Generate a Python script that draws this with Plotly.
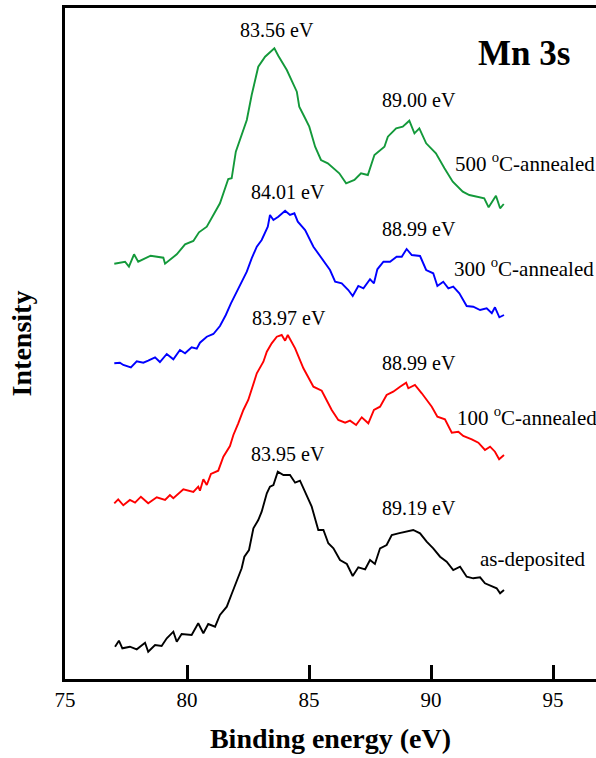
import plotly.graph_objects as go

# ---------------- data ----------------
green_x = [77.02, 77.46, 77.62, 77.83, 78.00, 78.51, 79.03, 79.10, 79.58, 79.92, 80.26, 80.49, 80.81, 81.01,
           81.35, 81.69, 81.83, 82.00, 82.24, 82.45, 82.65, 82.92, 83.20, 83.58, 83.74, 84.09, 84.50, 84.60,
           84.84, 85.01, 85.25, 85.49, 85.77, 86.24, 86.52, 86.86, 87.13, 87.41, 87.68, 88.09, 88.23, 88.57,
           88.84, 89.11, 89.32, 89.52, 89.80, 90.20, 90.55, 90.89, 91.30, 91.57, 92.18, 92.36, 92.66, 92.83, 92.98]
green_y = [415.3, 417.3, 412.3, 424.7, 417.3, 423.3, 421.3, 415.3, 424.7, 434.7, 438.0, 446.7, 452.3, 461.3,
           475.7, 500.0, 500.7, 527.3, 544.0, 559.0, 584.0, 612.3, 622.3, 630.7, 623.3, 609.0, 587.3, 572.3,
           560.7, 552.3, 532.3, 519.0, 515.7, 505.7, 495.7, 499.0, 505.7, 504.0, 524.0, 532.3, 542.3, 550.7,
           552.3, 558.3, 545.7, 550.7, 535.7, 525.7, 510.7, 497.3, 487.3, 484.0, 480.7, 471.7, 483.3, 470.7, 475.0]

blue_x = [77.02, 77.25, 77.39, 77.70, 77.94, 78.21, 78.41, 78.69, 78.89, 79.17, 79.44, 79.71, 79.92, 80.19,
          80.40, 80.53, 80.81, 81.08, 81.35, 81.59, 81.80, 82.04, 82.24, 82.45, 82.65, 82.86, 83.06, 83.31,
          83.40, 83.54, 83.74, 84.02, 84.22, 84.40, 84.54, 84.84, 85.18, 85.52, 85.86, 86.07, 86.34, 86.61,
          86.79, 87.02, 87.23, 87.50, 87.66, 87.80, 88.05, 88.32, 88.59, 88.80, 89.00, 89.21, 89.55, 89.80,
          90.09, 90.26, 90.50, 90.71, 90.91, 91.16, 91.46, 91.73, 92.01, 92.28, 92.49, 92.62, 92.80, 92.99]
blue_y = [315.7, 316.3, 314.0, 311.7, 317.7, 316.3, 318.3, 321.7, 317.0, 325.0, 319.7, 329.0, 325.7, 331.7,
          330.3, 336.3, 342.3, 345.0, 353.0, 364.0, 375.7, 387.3, 395.7, 407.3, 420.7, 432.3, 439.0, 452.3,
          464.0, 459.0, 462.3, 468.3, 464.0, 465.7, 457.3, 449.0, 432.3, 420.7, 409.0, 397.3, 395.7, 389.0,
          383.0, 393.0, 390.7, 399.7, 395.7, 409.7, 417.3, 417.3, 422.3, 422.3, 430.0, 424.0, 423.0, 409.0,
          405.7, 393.0, 397.3, 390.7, 392.3, 385.7, 373.0, 372.3, 369.0, 370.7, 365.7, 371.7, 361.7, 364.0]

red_x = [77.02, 77.18, 77.39, 77.66, 77.87, 78.11, 78.41, 78.76, 79.10, 79.30, 79.44, 79.85, 80.26, 80.46,
         80.53, 80.67, 80.81, 80.98, 81.28, 81.49, 81.76, 81.90, 82.10, 82.31, 82.51, 82.72, 82.86, 83.13,
         83.27, 83.47, 83.68, 83.88, 84.02, 84.13, 84.43, 84.77, 85.18, 85.52, 85.72, 85.93, 86.20, 86.48,
         86.68, 86.93, 87.16, 87.43, 87.66, 87.91, 88.18, 88.45, 88.73, 88.98, 89.07, 89.34, 89.62, 89.82,
         90.03, 90.26, 90.57, 90.85, 91.12, 91.32, 91.67, 91.94, 92.21, 92.42, 92.62, 92.79, 92.99]
red_y = [175.7, 179.7, 173.7, 179.0, 176.3, 182.3, 175.7, 181.7, 179.0, 184.0, 180.7, 189.7, 187.0, 192.3,
         188.3, 199.7, 194.0, 205.0, 208.3, 222.3, 233.0, 244.0, 255.7, 269.0, 279.0, 294.0, 305.7, 317.3,
         327.3, 335.7, 342.3, 344.0, 338.3, 344.0, 330.7, 310.7, 292.3, 288.3, 279.0, 269.0, 259.0, 256.3,
         258.3, 254.0, 261.7, 255.7, 269.0, 272.3, 284.0, 287.3, 292.3, 296.3, 290.7, 294.0, 285.7, 279.7,
         272.3, 262.3, 259.7, 246.3, 247.3, 243.0, 239.7, 236.3, 229.0, 232.3, 227.3, 219.7, 224.0]

black_x = [77.05, 77.21, 77.35, 77.66, 77.94, 78.28, 78.41, 78.69, 78.96, 79.17, 79.44, 79.58, 79.78, 80.19,
           80.46, 80.67, 80.87, 81.15, 81.35, 81.63, 81.83, 82.04, 82.24, 82.35, 82.54, 82.72, 82.92, 83.06,
           83.27, 83.40, 83.54, 83.72, 83.95, 84.22, 84.43, 84.63, 84.91, 85.11, 85.38, 85.59, 85.79, 86.00,
           86.27, 86.55, 86.79, 87.02, 87.30, 87.50, 87.70, 87.91, 88.18, 88.39, 88.66, 88.93, 89.27, 89.55,
           89.82, 90.09, 90.37, 90.64, 90.91, 91.19, 91.46, 91.73, 92.01, 92.21, 92.49, 92.69, 92.83, 92.99]
black_y = [32.3, 38.3, 30.7, 32.3, 29.7, 36.3, 27.3, 34.0, 33.0, 40.7, 47.3, 37.3, 45.0, 44.0,
           55.7, 45.7, 55.0, 52.3, 64.0, 72.3, 85.0, 97.3, 110.7, 122.3, 129.0, 150.7, 159.0, 167.3,
           185.7, 192.3, 194.0, 207.3, 204.0, 204.0, 196.3, 198.3, 182.3, 172.3, 149.0, 149.0, 135.7, 130.7,
           119.0, 115.0, 103.0, 111.7, 109.7, 119.0, 115.0, 130.7, 134.0, 144.0, 145.7, 147.3, 149.0, 145.7,
           137.3, 130.7, 122.3, 117.3, 109.0, 112.3, 102.3, 100.7, 101.7, 95.7, 92.3, 90.7, 85.7, 89.0]

series_names = ["500 °C-annealed", "300 °C-annealed", "100 °C-annealed", "as-deposited"]
series_colors = ["#13993a", "#0000ff", "#ff0000", "#000000"]

peak_labels = ["83.56 eV", "89.00 eV", "84.01 eV", "88.99 eV", "83.97 eV", "88.99 eV", "83.95 eV", "89.19 eV"]
peak_label_x = [83.68, 89.52, 84.15, 89.52, 84.16, 89.49, 84.12, 89.52]
peak_label_y = [649, 579, 487, 450, 361, 316, 225, 171]

sample_labels = ["500 <sup>o</sup>C-annealed", "300 <sup>o</sup>C-annealed",
                 "100 <sup>o</sup>C-annealed", "as-deposited"]
sample_label_x = [90.89, 90.86, 91.0, 91.91]
sample_label_y = [517, 412, 263, 120]

x_ticks = [75, 80, 85, 90, 95]

# ---------------- figure ----------------
FONT = "Liberation Serif, Times New Roman, serif"
fig = go.Figure()
xs = [green_x, blue_x, red_x, black_x]
ys = [green_y, blue_y, red_y, black_y]
for name, color, x, y in zip(series_names, series_colors, xs, ys):
    fig.add_trace(go.Scatter(x=x, y=y, mode="lines", name=name,
                             line=dict(color=color, width=1.9), showlegend=False))

for t, x, y in zip(peak_labels, peak_label_x, peak_label_y):
    fig.add_annotation(x=x, y=y, text=t, showarrow=False, xanchor="center", yanchor="middle",
                       font=dict(family=FONT, size=20, color="black"))
for t, x, y in zip(sample_labels, sample_label_x, sample_label_y):
    fig.add_annotation(x=x, y=y, text=t, showarrow=False, xanchor="left", yanchor="middle",
                       font=dict(family=FONT, size=21, color="black"))
fig.add_annotation(x=91.84, y=626, text="<b>Mn 3s</b>", showarrow=False, xanchor="left", yanchor="middle",
                   font=dict(family=FONT, size=35, color="black"))

fig.update_layout(
    width=596, height=758,
    margin=dict(l=65, r=0, t=8, b=79),
    paper_bgcolor="white", plot_bgcolor="white",
    font=dict(family=FONT, color="black"),
    xaxis=dict(range=[75, 96.76], tickvals=x_ticks, ticktext=[str(v) for v in x_ticks],
               ticks="inside", ticklen=14, tickwidth=2.5, tickcolor="black",
               showline=True, linewidth=2.5, linecolor="black", mirror=True,
               showgrid=False, zeroline=False, tickfont=dict(family=FONT, size=21),
               title=dict(text="<b>Binding energy (eV)</b>", font=dict(family=FONT, size=28), standoff=18),
               automargin=False),
    yaxis=dict(range=[0, 671], showticklabels=False, ticks="",
               showline=True, linewidth=2.5, linecolor="black",
               showgrid=False, zeroline=False,
               title=dict(text="<b>Intensity</b>", font=dict(family=FONT, size=28), standoff=23),
               automargin=False),
)

fig.write_html("out.html", config={"displayModeBar": False},
               post_script="document.body.style.margin='0';document.body.style.overflow='hidden';")
